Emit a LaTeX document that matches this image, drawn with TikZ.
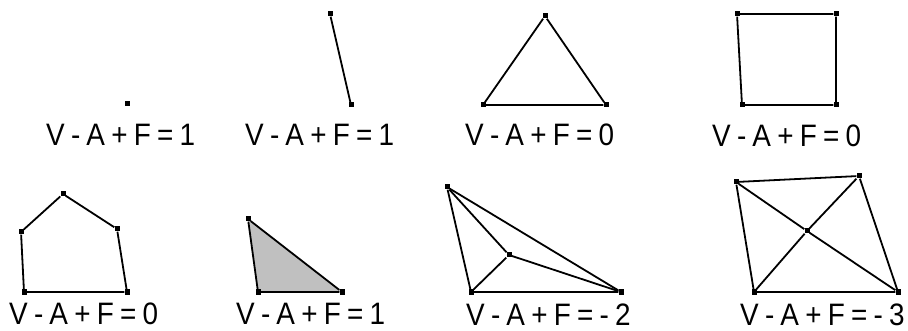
\documentclass[tikz,border=0pt]{standalone}
\usepackage{fontspec}
\setmainfont[WordSpace=0.8,FakeStretch=0.9]{Liberation Sans}
\usepackage{tikz}
\definecolor{FaceGray}{HTML}{C0C0C0}

\begin{document}
\begin{tikzpicture}[
  x=1pt,y=-1pt,
  vtx/.style={rectangle,fill=black,inner sep=0pt,minimum size=5pt},
  edge/.style={line width=1.8pt,draw=black},
  face/.style={fill=FaceGray},
  lbl/.style={anchor=base west,inner sep=0pt,text depth=0pt,font=\fontsize{31}{36}\selectfont}
]
\useasboundingbox (0,0) rectangle (908,331);
% top row
\node[vtx] (p1) at (127,104) {};
\node[lbl] (t1) at (46,146) {V - A + F = 1};

\node[vtx] (s1) at (330,14) {};
\node[vtx] (s2) at (351,105) {};
\node[lbl] (t2) at (245,146) {V - A + F = 1};
\draw[edge] (s1)--(s2);

\node[vtx] (r1) at (545,16) {};
\node[vtx] (r2) at (483,105) {};
\node[vtx] (r3) at (606,105) {};
\node[lbl] (t3) at (465,146) {V - A + F = 0};
\draw[edge] (r1)--(r2)--(r3)--(r1);

\node[vtx] (q1) at (737,14) {};
\node[vtx] (q2) at (836,14) {};
\node[vtx] (q3) at (836,105) {};
\node[vtx] (q4) at (742,105) {};
\node[lbl] (t4) at (712,147) {V - A + F = 0};
\draw[edge] (q1)--(q2)--(q3)--(q4)--(q1);

% bottom row
\node[vtx] (h1) at (63,194) {};
\node[vtx] (h2) at (117,229) {};
\node[vtx] (h3) at (127,292) {};
\node[vtx] (h4) at (24,292) {};
\node[vtx] (h5) at (21,232) {};
\node[lbl] (t5) at (9,324) {V - A + F = 0};
\draw[edge] (h1)--(h2)--(h3)--(h4)--(h5)--(h1);

\fill[face] (248,219)--(258,292)--(342,292)--cycle;
\node[vtx] (f1) at (248,219) {};
\node[vtx] (f2) at (258,292) {};
\node[vtx] (f3) at (342,292) {};
\node[lbl] (t6) at (236,324) {V - A + F = 1};
\draw[edge] (f1)--(f2)--(f3)--(f1);

\node[vtx] (k1) at (447,187) {};
\node[vtx] (k2) at (509,255) {};
\node[vtx] (k3) at (471,292) {};
\node[vtx] (k4) at (621,292) {};
\node[lbl] (t7) at (466,325) {V - A + F = - 2};
\draw[edge] (k1)--(k3)--(k4)--(k1);
\draw[edge] (k1)--(k2);
\draw[edge] (k2)--(k3);
\draw[edge] (k2)--(k4);

\node[vtx] (d1) at (736,182) {};
\node[vtx] (d2) at (859,176) {};
\node[vtx] (d3) at (898,292) {};
\node[vtx] (d4) at (754,292) {};
\node[vtx] (d5) at (807,231) {};
\node[lbl] (t8) at (740,325) {V - A + F = - 3};
\draw[edge] (d1)--(d2)--(d3)--(d4)--(d1);
\draw[edge] (d1)--(d5)--(d3);
\draw[edge] (d2)--(d5)--(d4);
\end{tikzpicture}
\end{document}
